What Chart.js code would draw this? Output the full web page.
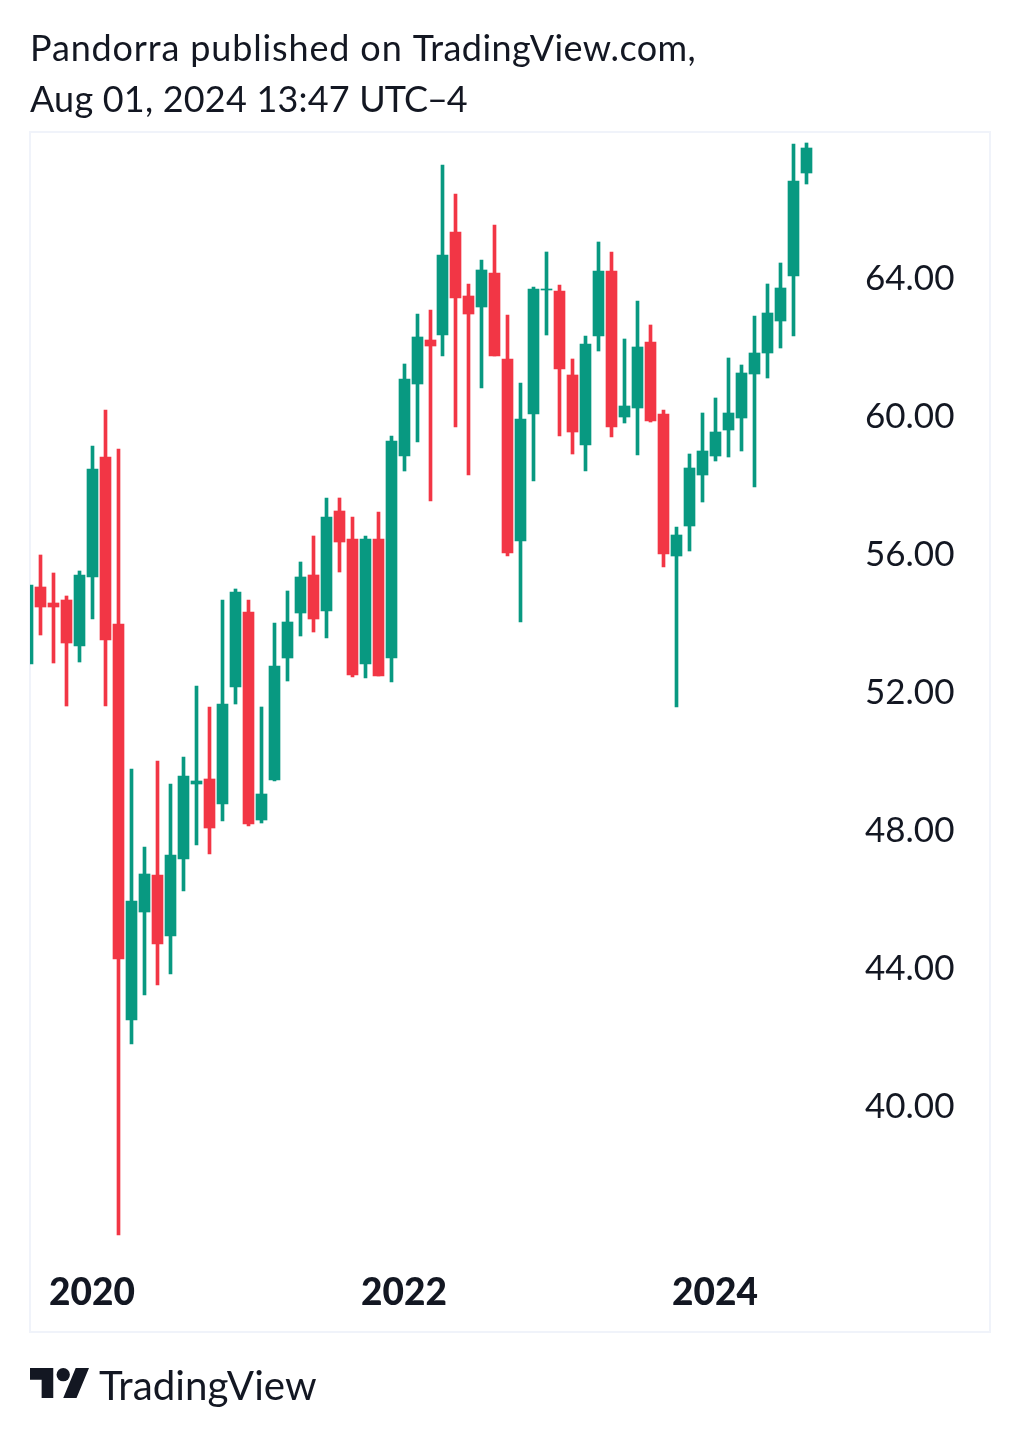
<!DOCTYPE html>
<html>
<head>
<meta charset="utf-8">
<script src="https://cdn.jsdelivr.net/npm/chart.js@4/dist/chart.umd.min.js"></script>
<style>
html,body{margin:0;padding:0;background:#fff;width:1020px;height:1437px;overflow:hidden}
#wrap{position:relative;width:1020px;height:1437px}
canvas{position:absolute;left:0;top:0}
.panel{position:absolute;left:29px;top:131px;width:958px;height:1198px;border:2px solid #f0f3fa;}
.txt{position:absolute;font-family:Lato,sans-serif;color:#131722;white-space:nowrap}
#logo{position:absolute;left:30px;top:1368px}
</style>
</head>
<body>
<div id="wrap">
<div class="panel"></div>
<canvas id="c" width="1020" height="1437"></canvas>
<div class="txt" style="left:30px;top:25px;font-size:36px;line-height:44px;letter-spacing:0.85px">Pandorra published on <span style="letter-spacing:0.4px">TradingView.com,</span></div>
<div class="txt" style="left:30px;top:76px;font-size:36px;line-height:44px;letter-spacing:0.2px">Aug 01, 2024 13:47 <span style="letter-spacing:-1px">UTC–4</span></div>
<svg id="logo" width="59" height="30" viewBox="0 4 35.5 18"><path fill="#131722" d="M14 22H7V11H0V4h14v18zM28 22h-8l7.5-18h8L28 22z"/><circle fill="#131722" cx="20" cy="8" r="4"/></svg>
<div class="txt" style="left:99px;top:1359px;font-size:40.3px;line-height:52px;font-weight:400">TradingView</div>
</div>
<script>
const months = ['2019-08','2019-09','2019-10','2019-11','2019-12','2020-01','2020-02','2020-03','2020-04','2020-05','2020-06','2020-07','2020-08','2020-09','2020-10','2020-11','2020-12','2021-01','2021-02','2021-03','2021-04','2021-05','2021-06','2021-07','2021-08','2021-09','2021-10','2021-11','2021-12','2022-01','2022-02','2022-03','2022-04','2022-05','2022-06','2022-07','2022-08','2022-09','2022-10','2022-11','2022-12','2023-01','2023-02','2023-03','2023-04','2023-05','2023-06','2023-07','2023-08','2023-09','2023-10','2023-11','2023-12','2024-01','2024-02','2024-03','2024-04','2024-05','2024-06','2024-07','2024-08'];
const opens  = [52.78,55.01,54.55,54.64,53.30,55.30,58.78,53.94,42.46,45.59,46.67,44.90,47.13,49.30,49.45,48.72,52.12,54.29,48.26,49.42,52.96,54.26,55.36,54.32,57.22,56.41,52.78,56.41,52.96,58.81,60.90,62.17,62.32,65.30,63.45,63.13,64.12,61.62,56.35,60.03,63.62,63.59,61.16,59.13,62.29,64.17,59.94,60.20,62.12,60.03,55.91,56.78,58.26,58.81,59.57,59.91,61.19,61.80,62.72,64.03,67.01];
const highs  = [55.07,55.94,55.42,54.75,55.48,59.10,60.14,59.01,49.74,47.48,49.97,49.30,50.09,52.14,51.54,54.64,54.96,54.64,51.54,53.97,54.90,55.74,56.49,57.59,57.59,57.04,56.49,57.19,59.39,61.48,62.93,63.04,67.25,66.41,63.80,64.49,65.51,62.90,60.93,63.71,64.72,63.77,61.62,62.29,65.01,64.72,62.20,63.30,62.61,60.14,56.75,58.87,60.06,60.49,61.65,61.45,62.87,63.80,64.41,67.86,67.88];
const lows   = [52.78,53.62,52.81,51.57,52.84,54.09,51.57,36.23,41.77,43.19,43.48,43.80,46.20,47.54,47.28,48.23,51.62,48.09,48.17,49.39,52.29,53.59,53.71,53.54,55.45,52.41,52.38,52.43,52.26,58.38,59.22,57.51,61.71,59.65,58.26,60.78,61.71,55.91,54.00,58.09,62.32,59.39,58.87,58.38,61.86,59.36,59.77,58.84,59.80,55.59,51.54,56.06,57.48,58.67,58.78,58.96,57.91,61.07,61.94,62.29,66.70];
const closes = [55.07,54.43,54.43,53.39,55.36,58.43,53.48,44.23,45.91,46.70,44.67,47.25,49.54,49.39,48.03,51.62,54.87,48.14,49.01,52.72,54.00,55.30,54.09,57.04,56.32,52.46,56.41,52.43,59.25,61.04,62.26,62.00,64.64,63.39,62.93,64.20,61.71,56.00,59.88,63.65,63.65,61.33,59.51,62.06,64.17,59.65,60.26,61.97,59.83,55.97,56.52,58.46,58.96,59.51,60.06,61.22,61.80,62.96,63.68,66.78,67.74];
const yearTicks = ['2020-01','2022-01','2024-01'];
const priceTicks = [40,44,48,52,56,60,64];
const UP = '#089981', DOWN = '#f23645';
const candleColors = closes.map((c,i)=> c>=opens[i] ? UP : DOWN);

// Snap scale output to device pixels so candles stay crisp, as in the reference.
function snapPixels(scale, half){
  if (scale._snapped) return;
  scale._snapped = true;
  const base = scale.getPixelForValue;
  scale.getPixelForValue = function(v,i){ return Math.round(base.call(this,v,i)-half)+half; };
}

new Chart(document.getElementById('c'),{
  type:'bar',
  data:{datasets:[
    {label:'High-Low',data:months.map((m,i)=>({x:i,y:[lows[i],highs[i]]})),backgroundColor:candleColors,barThickness:3,grouped:false,order:2,borderWidth:0},
    {label:'Open-Close',data:months.map((m,i)=>({x:i,y:[opens[i],closes[i]]})),backgroundColor:candleColors,barThickness:11,grouped:false,order:1,borderWidth:0}
  ]},
  options:{
    responsive:false,devicePixelRatio:1,animation:false,
    layout:{padding:{left:30,right:30,top:133,bottom:105}},
    plugins:{legend:{display:false},tooltip:{enabled:false},title:{display:false}},
    scales:{
      x:{type:'linear',offset:false,min:0.191,max:63.04,
        grid:{display:false,offset:false},border:{display:false},
        afterBuildTicks:s=>{s.ticks=yearTicks.map(t=>({value:months.indexOf(t)}));snapPixels(s,0.5);},
        afterFit:s=>{s.height=78;},
        ticks:{autoSkip:false,maxRotation:0,minRotation:0,padding:9,labelOffset:-0.5,color:'#131722',
          font:{family:'Lato',size:37,weight:'900'},
          callback:v=>months[v].slice(0,4)}
      },
      y:{type:'linear',position:'right',min:35.681,max:68.174,
        grid:{display:false,drawTicks:false},border:{display:false},
        afterBuildTicks:s=>{s.ticks=priceTicks.map(v=>({value:v}));snapPixels(s,0);},
        afterFit:s=>{s.width=144;},
        ticks:{padding:19,labelOffset:1.3,color:'#131722',font:{family:'Lato',size:35},
          callback:v=>v.toFixed(2)}
      }
    }
  }
});
</script>
</body>
</html>
